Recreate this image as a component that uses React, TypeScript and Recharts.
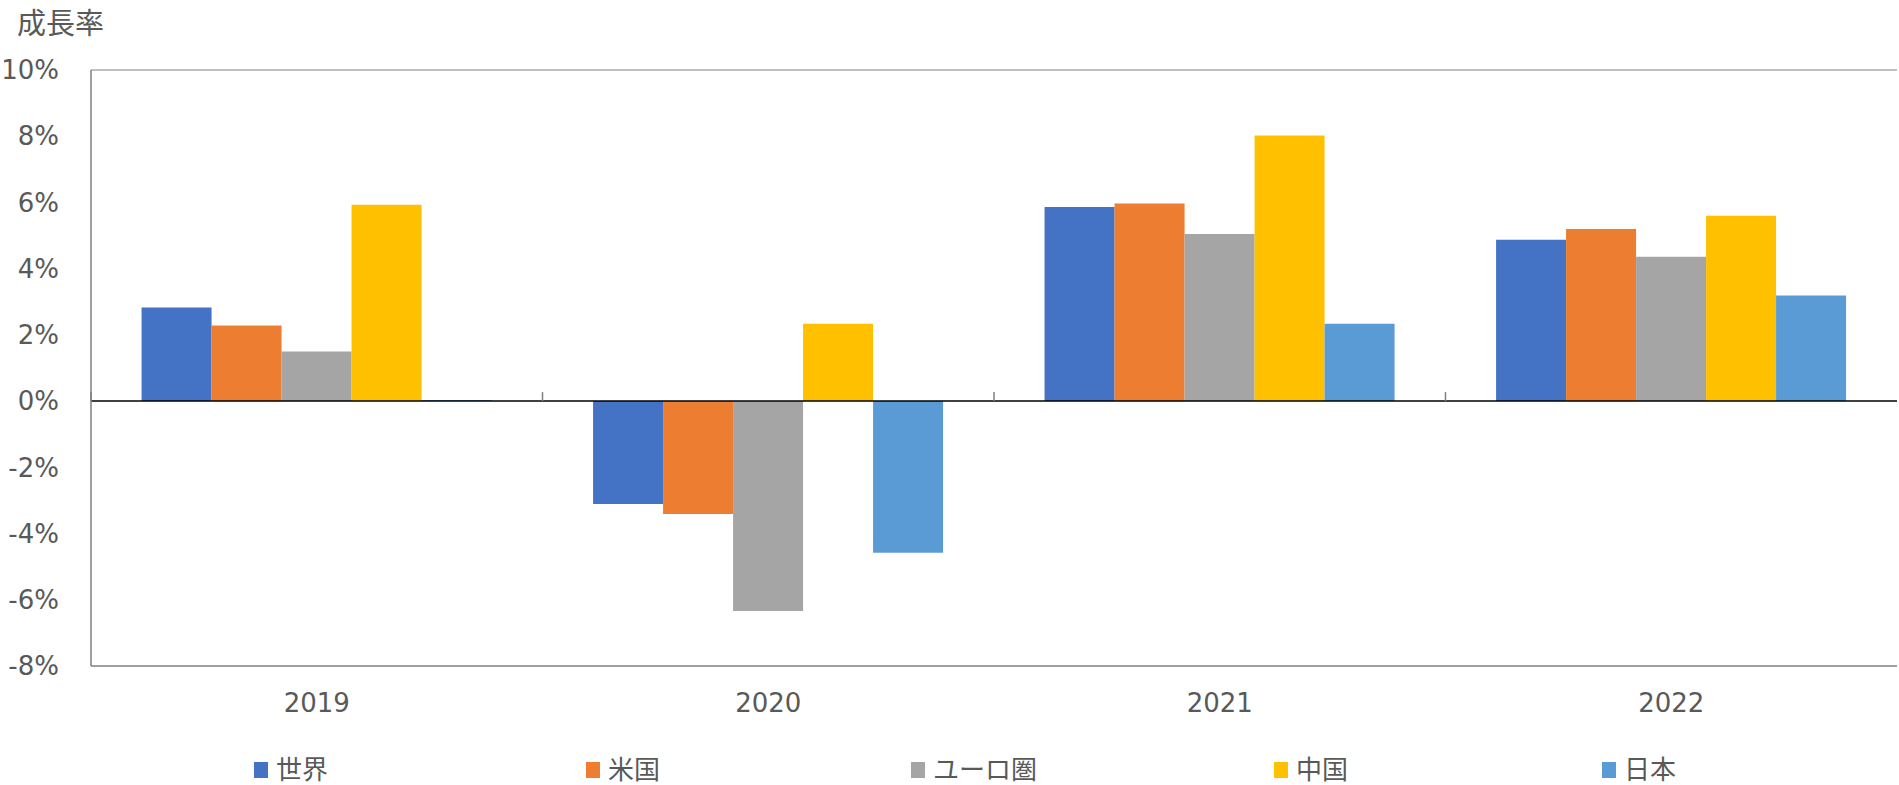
import { Bar, BarChart, XAxis, YAxis, ReferenceLine } from "recharts"

const years = ["2019", "2020", "2021", "2022"]
const seriesNames = ["世界", "米国", "ユーロ圏", "中国", "日本"]
const seriesColors = ["#4472C4", "#ED7D31", "#A5A5A5", "#FFC000", "#5B9BD5"]

// growth rates (%) per region, one value per year
const world = [2.83, -3.11, 5.86, 4.87]
const usa = [2.28, -3.41, 5.97, 5.2]
const euro = [1.5, -6.34, 5.05, 4.36]
const china = [5.93, 2.34, 8.02, 5.6]
const japan = [0.03, -4.58, 2.34, 3.19]

const yTicks = [-8, -6, -4, -2, 0, 2, 4, 6, 8, 10]

const seriesValues = [world, usa, euro, china, japan]

const chartData = years.map((year, i) => {
  const row: Record<string, string | number> = { year }
  seriesNames.forEach((name, s) => {
    row[name] = seriesValues[s][i]
  })
  return row
})

const FONT = '"DejaVu Sans", "Noto Sans CJK JP", sans-serif'
const TEXT = "#595959"

// left edge of each legend entry (layout only)
const legendLeft = [254, 586, 911, 1274, 1602]

// zero line with small upward ticks at category boundaries
function ZeroLine(props: any) {
  const { x1, y1, x2, y2 } = props
  if (x1 == null || y1 == null) return null
  const w = x2 - x1
  return (
    <g>
      <line x1={x1} y1={y1} x2={x2} y2={y2} stroke="#000000" strokeWidth={1.5} />
      {[0, 1, 2, 3].map((i) => (
        <line
          key={i}
          x1={x1 + (w * i) / 4}
          x2={x1 + (w * i) / 4}
          y1={y1}
          y2={y1 - 9}
          stroke="#7f7f7f"
          strokeWidth={1.5}
        />
      ))}
    </g>
  )
}

function ChartLegend() {
  return (
    <>
      {seriesNames.map((name, i) => (
        <div
          key={name}
          style={{
            position: "absolute",
            left: legendLeft[i],
            top: 754,
            display: "flex",
            alignItems: "center",
            fontFamily: FONT,
            fontSize: 26,
            color: TEXT,
            lineHeight: "32px",
            whiteSpace: "nowrap",
          }}
        >
          <span
            style={{
              display: "inline-block",
              width: 14,
              height: 16,
              background: seriesColors[i],
              marginRight: 8,
            }}
          />
          <span>{name}</span>
        </div>
      ))}
    </>
  )
}

export default function App() {
  return (
    <div style={{ position: "absolute", left: 0, top: 0, width: 1899, height: 785, background: "#fff" }}>
      <div
        style={{
          position: "absolute",
          left: 17,
          top: 6,
          fontFamily: FONT,
          fontSize: 29,
          color: TEXT,
          lineHeight: "36px",
        }}
      >
        成長率
      </div>
      <BarChart
        width={1899}
        height={785}
        data={chartData}
        margin={{ top: 70, right: 2, left: 0, bottom: 89 }}
        barCategoryGap="11.2%"
        barGap={0}
      >
        <XAxis
          dataKey="year"
          axisLine={{ stroke: "#7f7f7f", strokeWidth: 1.5 }}
          tickLine={false}
          tick={{ fontSize: 26, fill: TEXT, fontFamily: FONT }}
          tickMargin={22}
        />
        <YAxis
          domain={[-8, 10]}
          ticks={yTicks}
          interval={0}
          width={91}
          axisLine={{ stroke: "#7f7f7f", strokeWidth: 1.5 }}
          tickLine={false}
          tickMargin={26}
          tick={{ fontSize: 26, fill: TEXT, fontFamily: FONT }}
          tickFormatter={(v: number) => `${v}%`}
        />
        <ReferenceLine y={10} stroke="#bfbfbf" strokeWidth={2} />
        {seriesNames.map((name, i) => (
          <Bar key={name} dataKey={name} fill={seriesColors[i]} isAnimationActive={false} />
        ))}
        <ReferenceLine y={0} shape={<ZeroLine />} />
      </BarChart>
      <ChartLegend />
    </div>
  )
}
